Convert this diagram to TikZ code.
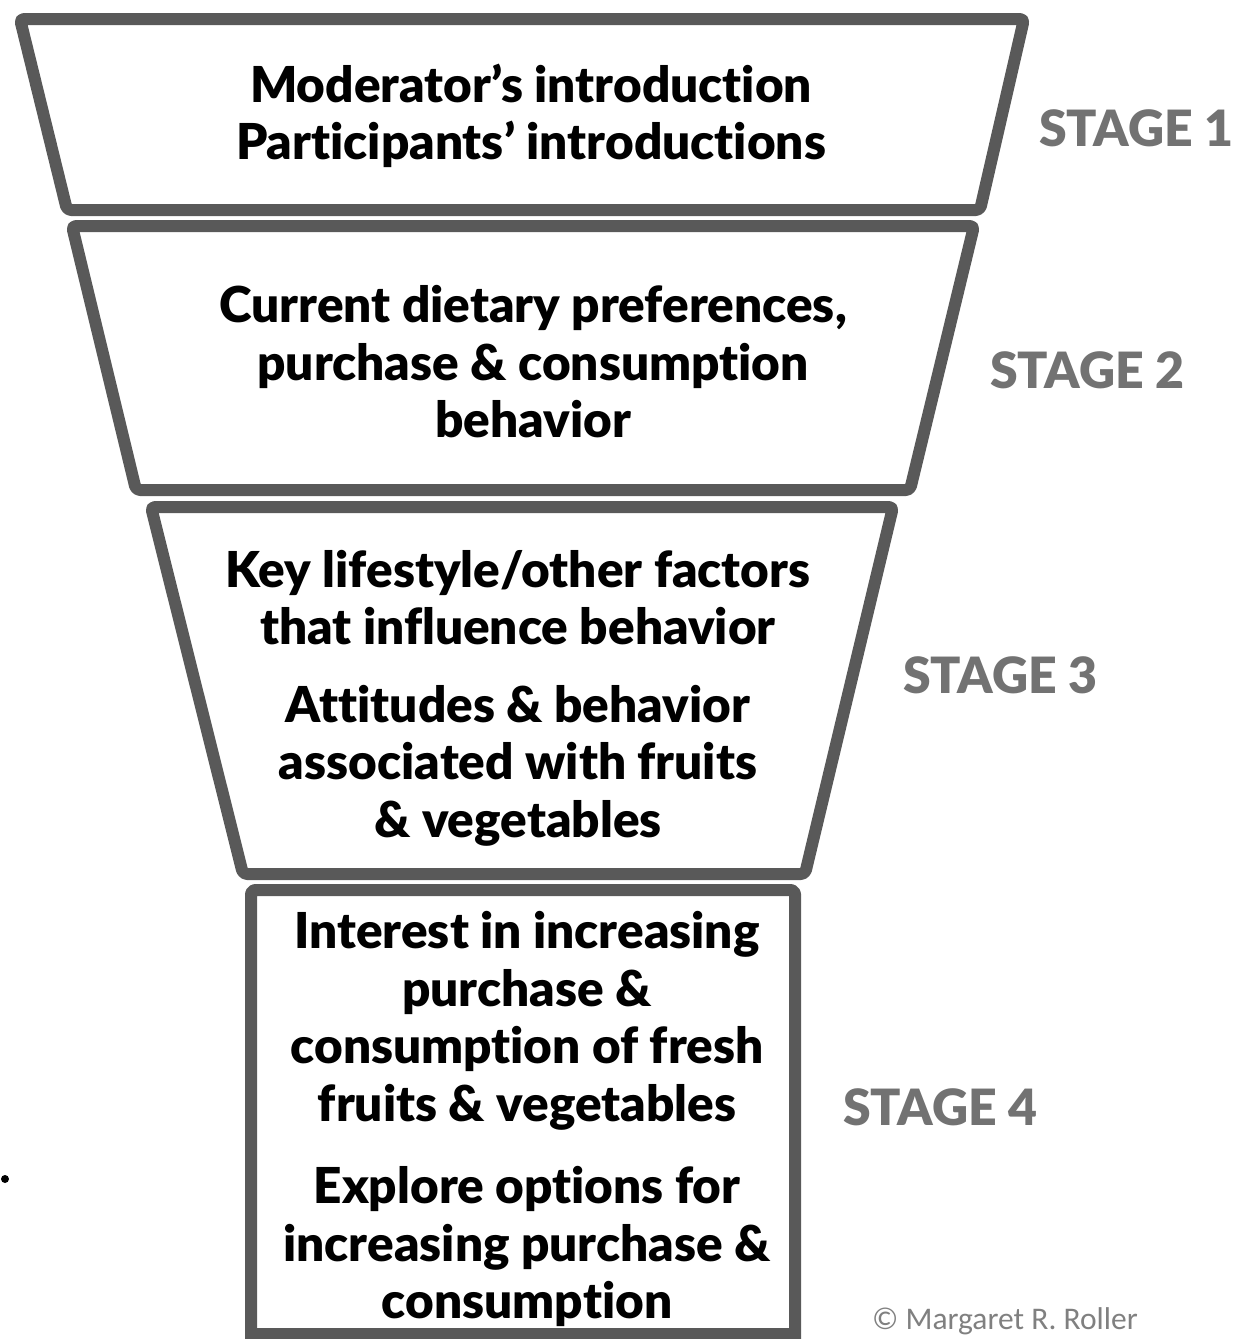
\documentclass[tikz,border=0pt]{standalone}
\usepackage{fontspec}
\setmainfont{Lato}[BoldFont={Lato Black},Ligatures=NoCommon]
\newfontfamily\copyfont{Carlito}
\definecolor{edge}{HTML}{595959}
\definecolor{stagegray}{HTML}{727272}
\definecolor{copygray}{HTML}{808080}
\begin{document}
\begin{tikzpicture}[x=1pt,y=-1pt,
  funnel/.style={draw=edge,line width=12pt,rounded corners=4pt,line join=round},
  body/.style={font=\fontsize{49.5}{57.5}\selectfont\bfseries,align=center,text=black,inner sep=0pt},
  stagelbl/.style={font=\fontsize{50}{54}\selectfont\bfseries,text=stagegray,inner sep=0pt}]
\useasboundingbox (0,0) rectangle (1237,1339);
% funnel sections
\draw[funnel] (20,19) -- (1024,19) -- (980,210) -- (67,210) -- cycle;
\draw[funnel] (72,226) -- (974,226) -- (910,490) -- (136,490) -- cycle;
\draw[funnel] (151,507) -- (893,507) -- (805,874) -- (243,874) -- cycle;
\draw[funnel] (251,1345) -- (251,890) -- (795,890) -- (795,1345);
\draw[funnel] (251,1334) -- (795,1334);
% texts
\node[body] (t1) at (531,116) {Moderator’s introduction\\Participants’ introductions};
\node[body] (t2) at (533,362) {Current dietary preferences,\\purchase \& consumption\\behavior};
\node[body] (t3) at (518,698) {Key lifestyle/other factors\\that influence behavior\\[20pt]Attitudes \& behavior\\associated with fruits\\\& vegetables};
\node[body] (t4) at (527,1119) {Interest in increasing\\purchase \&\\consumption of fresh\\fruits \& vegetables\\[25pt]Explore options for\\increasing purchase \&\\consumption};
% stage labels
\node[stagelbl,anchor=west] (s1) at (1039,128) {STAGE 1};
\node[stagelbl,anchor=west] (s2) at (990,370) {STAGE 2};
\node[stagelbl,anchor=west] (s3) at (903,675) {STAGE 3};
\node[stagelbl,anchor=west] (s4) at (843,1107) {STAGE 4};
% copyright
\node[font=\copyfont\fontsize{31.5}{34}\selectfont,text=copygray,anchor=west,inner sep=0pt] (cp) at (872,1321) {© Margaret R. Roller};
% stray dot
\fill (5,1179) circle (4pt);
\end{tikzpicture}
\end{document}
